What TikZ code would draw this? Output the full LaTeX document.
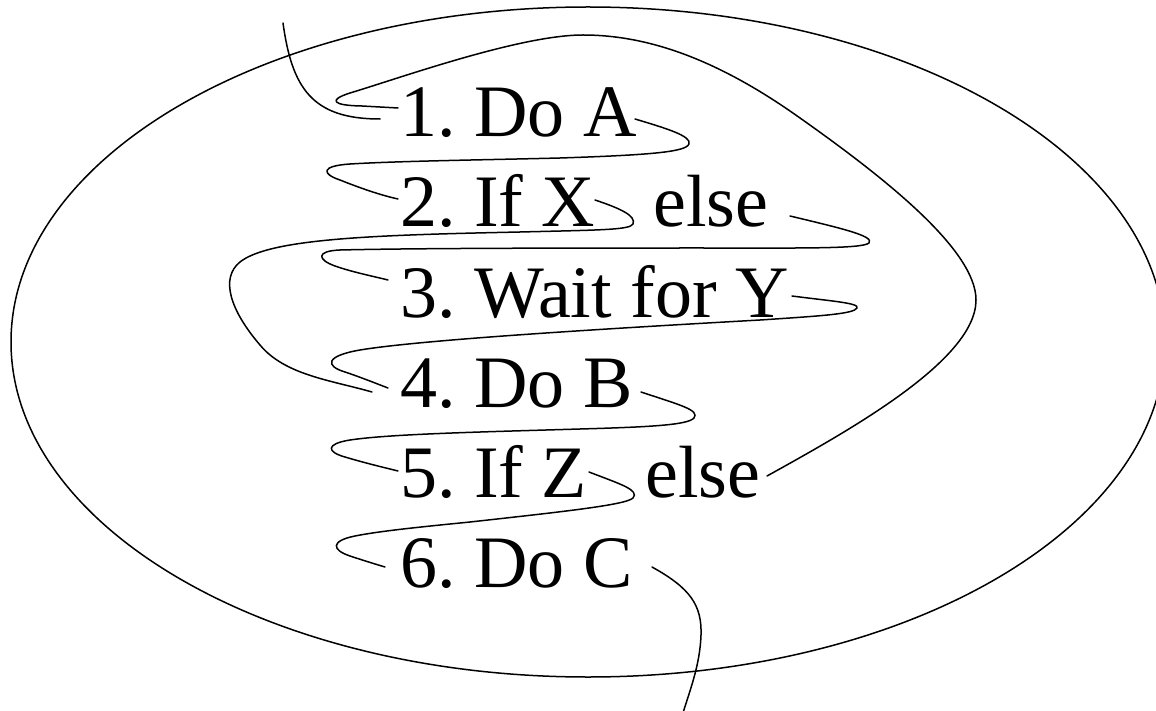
\documentclass[tikz,border=0pt]{standalone}
\usepackage{fontspec}
\setmainfont{Liberation Serif}
\newfontfamily\timesfont{Liberation Serif}
\usetikzlibrary{shapes.geometric}
\frenchspacing
\begin{document}
\begin{tikzpicture}[x=1pt,y=-1pt,
  txt/.style={font=\timesfont\fontsize{74}{80}\selectfont, inner sep=0pt, anchor=base west},
  wire/.style={line width=1.5pt, line cap=round, line join=round}]
\useasboundingbox[fill=white] (0,0) rectangle (1156,711);
% outer loop
\node[draw, ellipse, line width=1.5pt, minimum width=1154pt, minimum height=670pt, inner sep=0pt] (loop) at (588,342) {};
% text lines
\node[txt] (l1) at (400,137) {1. Do A};
\node[txt] (l2) at (400,227) {2. If X};
\node[txt] (e2) at (653,227) {else};
\node[txt] (l3) at (400,317) {3. Wait for Y};
\node[txt] (l4) at (400,407) {4. Do B};
\node[txt] (l5) at (400,497) {5. If Z};
\node[txt] (e5) at (645,497) {else};
\node[txt] (l6) at (400,587) {6. Do C};
% connector ends
\coordinate (in0) at (283,23);
\coordinate (out6) at (682,716);
% A: entry into 1
\draw[wire] (in0) .. controls (292,88) and (312,119) .. (380,119);
% B: 5 else -> 1
\draw[wire] (767,476) .. controls (850,430) and (976,360) .. (976,300)
  .. controls (976,250) and (885,178) .. (800,118)
  .. controls (720,61) and (650,35) .. (583,35)
  .. controls (520,35) and (400,78) .. (350,93)
  .. controls (328,100) and (332,105.5) .. (362,106) -- (398,108);
% C: 1 -> 2
\draw[wire] (635,119) .. controls (665,128) and (692,136) .. (689,144)
  .. controls (686,152) and (650,155) .. (560,158)
  .. controls (480,160) and (400,161) .. (350,164)
  .. controls (320,166) and (322,174) .. (340,180)
  .. controls (360,188) and (380,195) .. (398,199);
% D: 2 (X) -> 4
\draw[wire] (595,200) .. controls (622,209) and (636,216) .. (633,224)
  .. controls (630,230) and (600,230) .. (520,232)
  .. controls (380,235) and (270,238) .. (240,262)
  .. controls (220,278) and (230,310) .. (260,345)
  .. controls (285,375) and (330,380) .. (372,392);
% E: 2 else -> 3
\draw[wire] (790,216) .. controls (840,228) and (875,236) .. (869,243)
  .. controls (862,249) and (800,248) .. (700,248)
  .. controls (600,248) and (420,248) .. (340,250)
  .. controls (315,251) and (318,260) .. (335,266)
  .. controls (352,272) and (372,276) .. (388,280);
% F: 3 -> 4
\draw[wire] (792,296) .. controls (830,301) and (860,303) .. (857,308)
  .. controls (854,314) and (820,316) .. (760,320)
  .. controls (600,329) and (420,340) .. (360,350)
  .. controls (325,356) and (325,366) .. (345,372)
  .. controls (360,377) and (375,383) .. (388,388);
% G: 4 -> 5
\draw[wire] (641,392) .. controls (680,405) and (700,410) .. (694,418)
  .. controls (688,425) and (650,427) .. (580,429)
  .. controls (480,432) and (390,434) .. (350,440)
  .. controls (325,444) and (327,452) .. (345,457)
  .. controls (365,463) and (382,467) .. (398,471);
% H: 5 -> 6
\draw[wire] (589,472) .. controls (620,484) and (640,490) .. (633,498)
  .. controls (626,505) and (560,512) .. (470,522)
  .. controls (420,527) and (380,531) .. (355,536)
  .. controls (330,541) and (332,550) .. (350,556)
  .. controls (362,560) and (375,564) .. (385,567);
% I: exit from 6
\draw[wire] (652,567) .. controls (690,588) and (702,605) .. (701,635)
  .. controls (700,665) and (690,690) .. (out6);
\end{tikzpicture}
\end{document}
